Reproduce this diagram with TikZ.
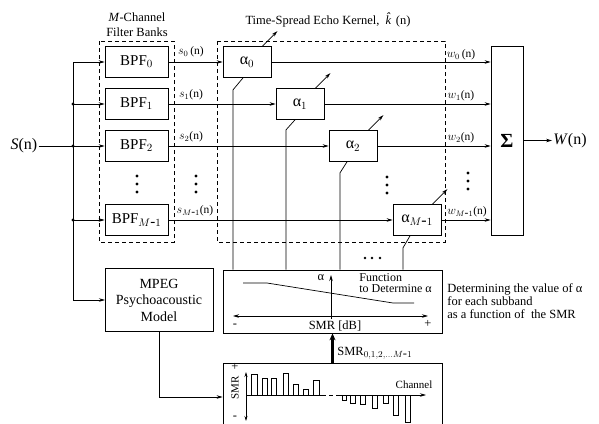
\documentclass[tikz,border=0pt]{standalone}
\usepackage{fontspec}
\setmainfont{Liberation Serif}
\usetikzlibrary{arrows.meta,positioning}

\tikzset{
  bpfbox/.style={draw, minimum width=63pt, minimum height=31pt, inner sep=0pt, font=\fontsize{15}{17}\selectfont},
  alphabox/.style={draw, minimum width=48pt, minimum height=31pt, inner sep=0pt, font=\fontsize{16}{18}\selectfont},
  sig/.style={-{Stealth[length=6pt,width=3.5pt]}},
  lbl/.style={inner sep=0pt, font=\fontsize{11.5}{13}\selectfont},
  txt/.style={inner sep=0pt, font=\fontsize{12.5}{13}\selectfont},
  dashbox/.style={line width=0.5pt, dash pattern=on 4pt off 3pt},
  dotmark/.style={circle, fill, inner sep=0pt, minimum size=3.2pt},
}

\begin{document}
\begin{tikzpicture}[x=1pt,y=-1pt,line width=0.7pt]
\useasboundingbox (0,0) rectangle (599,423);

% ===== Filter banks =====
\draw[dashbox] (99,41) rectangle (174,242);
\node[txt] (fbt1) at (137,17) {\textit{M}-Channel};
\node[txt] (fbt2) at (137,32) {Filter Banks};

\node[bpfbox] (bpf0) at (136.5,62)  {BPF$_0$};
\node[bpfbox] (bpf1) at (136.5,104) {BPF$_1$};
\node[bpfbox] (bpf2) at (136.5,146) {BPF$_2$};
\node[bpfbox] (bpfm) at (136.5,220) {BPF$_{M\mbox{-}1}$};

% ===== Input and bus =====
\node[inner sep=1pt, font=\fontsize{16}{18}\selectfont] (sin) at (24,146) {\textit{S}(n)};
\coordinate (bt) at (73,62);
\coordinate (bb) at (73,300);
\draw (sin.east) -- (sin.east -| bt);
\draw[sig] (bt) -- (bb) -- (bb -| 105,0);
\foreach \b in {bpf0,bpf1,bpf2,bpfm} {
    \draw[sig] (\b.west -| bt) -- (\b.west);
}
\foreach \y in {104,146,220} {
    \node[dotmark] at (73,\y) {};
}

% ===== Echo kernel =====
\draw[dashbox] (217,41) rectangle (445,242);
\node[txt] (ekt) at (328,20) {Time-Spread Echo Kernel,\ \ \textit{\^{k}}(n)};

\node[alphabox] (al0) at (247,62)  {α$_0$};
\node[alphabox] (al1) at (300,104) {α$_1$};
\node[alphabox] (al2) at (353,146) {α$_2$};
\node[alphabox] (alm) at (417,220) {α$_{M\mbox{-}1}$};

\node[draw, minimum width=32pt, minimum height=189pt, inner sep=0pt,
      font=\fontsize{20}{22}\selectfont\bfseries] (sum) at (507,140.5) {Σ};
\node[inner sep=1pt, font=\fontsize{16}{18}\selectfont] (wout) at (570,140.5) {\textit{W}(n)};
\draw[sig] (sum.east) -- (wout.west);

\foreach \b/\a in {bpf0/al0,bpf1/al1,bpf2/al2,bpfm/alm} {
    \draw[sig] (\b.east) -- (\a.west);
    \draw[sig] (\a.east) -- (\a.east -| sum.west);
    % variable gain
    \draw[sig] ([xshift=-9pt]\a.north east) -- ++(15,-15);
}

% ===== Signal labels =====
\node[lbl] (s0) at (191,52)  {$s_0$\,(n)};
\node[lbl] (s1) at (191,95)  {$s_1$(n)};
\node[lbl] (s2) at (191,137) {$s_2$(n)};
\node[lbl] (sm) at (195,211) {$s_{M\mbox{-}1}$(n)};
\node[lbl] (w0) at (461,55)  {$w_0$\,(n)};
\node[lbl] (w1) at (461,96)  {$w_1$(n)};
\node[lbl] (w2) at (461,138) {$w_2$(n)};
\node[lbl] (wm) at (467,212) {$w_{M\mbox{-}1}$(n)};

% ===== Vertical dots =====
\foreach \x/\y in {137/176,196/176,387/177,468/173} {
    \foreach \k in {0,8,16} {
        \node[dotmark] at (\x,\y+\k) {};
    }
}
\foreach \x in {365,372,380} {
    \node[dotmark, minimum size=2.6pt] at (\x,258) {};
}

% ===== Function box =====
\node[draw, minimum width=219pt, minimum height=63pt, inner sep=0pt] (func) at (332.5,301.5) {};
\draw ([xshift=-4pt]al0.south) -- ++(-10,12) coordinate (c0) -- (c0 |- func.north);
\draw ([xshift=-5pt]al1.south) -- ++(-9,10) coordinate (c1) -- (c1 |- func.north);
\draw ([xshift=-6pt]al2.south) -- ++(-7,11) coordinate (c2) -- (c2 |- func.north);
\draw ([xshift=-7pt]alm.south) -- ++(-7,12) coordinate (c3) -- (c3 |- func.north);

\draw[sig] (331,319) -- (331,275);
\draw[{Stealth[length=6pt,width=3.5pt]}-{Stealth[length=6pt,width=3.5pt]}] (233,316) -- (428,316);
\draw (243,283) -- (267,283) -- (393,303) -- (414,303);
\node[txt] (fa) at (321,278) {α};
\node[txt] (fm) at (235,326) {-};
\node[txt] (fp) at (428,324) {+};
\node[txt] (fx) at (335,326) {SMR [dB]};
\node[txt, anchor=west, align=left, font=\fontsize{12}{11.5}\selectfont] (ftx) at (359,283) {Function\\to Determine α};
\node[txt, anchor=west, align=left] (desc) at (447,301) {Determining the value of α\\for each subband\\as a function of\ \ the SMR};

% ===== Psychoacoustic model =====
\node[draw, minimum width=108pt, minimum height=63pt, inner sep=0pt, align=center,
      font=\fontsize{14}{16.5}\selectfont] (mpeg) at (159,300) {MPEG\\Psychoacoustic\\Model};

% ===== SMR chart =====
\node[draw, minimum width=219pt, minimum height=68pt, inner sep=0pt] (smr) at (332.5,397) {};
\draw[sig] (mpeg.south) |- (smr.west);
\draw[line width=2.2pt, -{Stealth[length=7pt,width=6pt]}] (smr.north) -- (func.south);
\node[txt, anchor=west] (smrl) at (337,353) {SMR$_{0,1,2,\ldots M\mbox{-}1}$};

\node[txt] (cp) at (235,367) {+};
\node[txt, rotate=90, font=\fontsize{11}{12}\selectfont] (cs) at (235,388) {SMR};
\node[txt] (cm) at (235,418) {-};
\draw[{Stealth[length=5pt,width=3pt]}-{Stealth[length=5pt,width=3pt]}] (246,372) -- (246,421);
\draw (246,395) -- (322,395);
\draw[dashbox] (322,395) -- (340,395);
\draw[sig] (340,395) -- (426,395);
\node[txt, font=\fontsize{11}{12}\selectfont] (chl) at (414,385) {Channel};
\foreach \a/\b/\t in {251/257/374,262/267/378,271/276/378,283/288/373,293/298/384,303/308/389,313/319/380,
                      342/346/400,350/355/403,360/365/404,372/377/408,383/388/403,393/398/415,405/410/422} {
    \draw (\a,395) -- (\a,\t) -- (\b,\t) -- (\b,395);
}

\end{tikzpicture}
\end{document}
